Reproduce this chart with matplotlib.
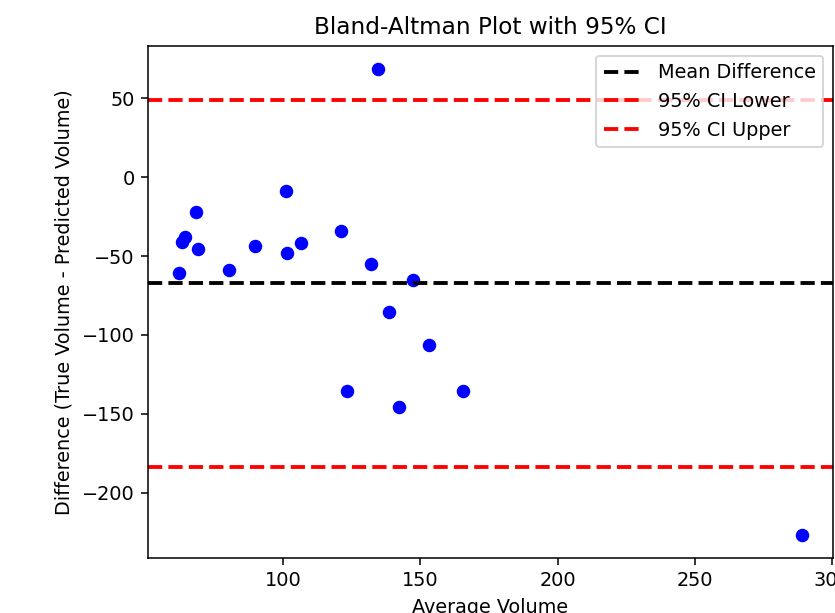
import matplotlib
matplotlib.use("Agg")
from matplotlib import pyplot as plt

# values
avg_volume = [134.7, 100.9, 68.4, 64.4, 63.2, 68.8, 62.1, 80.3, 89.9, 101.4,
              106.5, 121.0, 132.1, 147.2, 138.7, 153.3, 142.3, 165.4, 289.0, 123.1]
diff_volume = [68.4, -8.8, -21.9, -38.2, -41.2, -45.8, -60.6, -58.7, -43.9, -48.1,
               -42.0, -34.2, -55.3, -65.5, -85.2, -106.5, -145.9, -135.3, -226.7, -135.7]
mean_diff = -66.8
ci_lower = -183.5
ci_upper = 49.0

dpi = 138.5
fig = plt.figure(figsize=(835 / dpi, 613 / dpi), dpi=dpi)
ax = fig.add_axes([148 / 835, 55 / 613, 685 / 835, 512 / 613])

ax.scatter(avg_volume, diff_volume, color='blue')
ax.axhline(mean_diff, color='black', linestyle='--', linewidth=2, label='Mean Difference')
ax.axhline(ci_lower, color='red', linestyle='--', linewidth=2, label='95% CI Lower')
ax.axhline(ci_upper, color='red', linestyle='--', linewidth=2, label='95% CI Upper')

ax.set_title('Bland-Altman Plot with 95% CI')
ax.set_xlabel('Average Volume')
ax.set_ylabel('Difference (True Volume - Predicted Volume)')
ax.legend(loc='upper right')

fig.savefig('out.png', dpi=dpi)
